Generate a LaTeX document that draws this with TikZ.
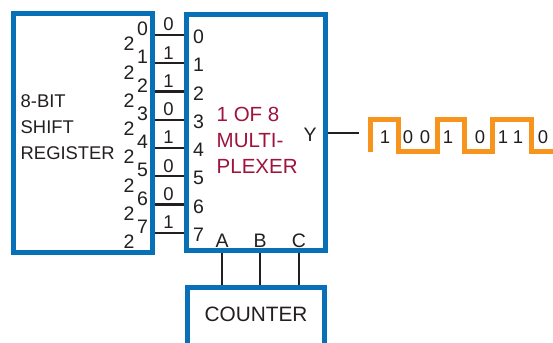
\documentclass[tikz,border=0pt]{standalone}
\usepackage{fontspec}
\setmainfont{Liberation Sans}
\definecolor{boxblue}{RGB}{8,112,182}
\definecolor{muxred}{RGB}{158,20,62}
\definecolor{waveorange}{RGB}{247,148,29}
\definecolor{ink}{RGB}{35,31,32}
\tikzset{
  blk/.style={draw=boxblue, line width=5pt, inner sep=0pt, fill=white},
  wire/.style={draw=ink, line width=2.2pt},
  lbl/.style={text=ink, inner sep=0pt, font=\fontsize{19.5}{19.5}\selectfont},
  reg/.style={text=ink, inner sep=0pt, font=\fontsize{18.4}{18.4}\selectfont},
  bit/.style={text=ink, inner sep=0pt, font=\fontsize{18.5}{18.5}\selectfont},
  muxtxt/.style={text=muxred, inner sep=0pt, align=left, font=\fontsize{20.5}{26}\selectfont},
  wave/.style={draw=waveorange, line width=5pt, line join=miter}
}
\begin{document}
\begin{tikzpicture}[x=1pt,y=-1pt]
\clip (0,0) rectangle (553,342);
\useasboundingbox (0,0) rectangle (553,342);
% blocks
\node[blk, minimum width=139pt, minimum height=238.5pt] (reg) at (83,133.25) {};
\node[blk, minimum width=139pt, minimum height=235.5pt] (mux) at (256,132.25) {};
\node[blk, minimum width=137pt, minimum height=58pt] (cnt) at (256,316.5) {};
\node[text=ink, inner sep=0pt, font=\fontsize{20.8}{20.8}\selectfont] (cnttxt) at (256,314) {COUNTER};
% register text
\node[reg, anchor=west] (r1) at (20.5,101) {8-BIT};
\node[reg, anchor=west] (r2) at (20.5,127) {SHIFT};
\node[reg, anchor=west] (r3) at (20.5,153) {REGISTER};
% mux text
\node[muxtxt, anchor=north west] (mt) at (216.5,107) {1 OF 8\\MULTI-\\PLEXER};
% inputs
\foreach \i/\b in {0/0,1/1,2/1,3/0,4/1,5/0,6/0,7/1}{
  \pgfmathsetmacro{\yy}{35+28.25*\i}
  \coordinate (l\i) at (160,\yy);
  \draw[wire] (reg.east |- l\i) -- (mux.west |- l\i);
  \node[bit] (b\i) at (168.5,\yy-10.5) {\b};
  \node[lbl] (n\i) at (198.5,\yy+2) {\i};
  \node[lbl] (t\i) at (129,\yy+9) {2};
  \node[lbl] (e\i) at (142.5,\yy-6) {\i};
}
% output
\node[lbl] (Y) at (310,135) {Y};
\coordinate (yout) at (359,133);
\draw[wire] (mux.east |- yout) -- (yout);
% select lines
\foreach \n/\x in {A/222,B/260,C/299}{
  \coordinate (s\n) at (\x,260);
  \node[lbl] (L\n) at (\x,241) {\n};
  \draw[wire] (mux.south -| s\n) -- (cnt.north -| s\n);
}
% waveform
\draw[wave] (370.5,151.5) -- (370.5,119) -- (398,119) -- (398,151.5) -- (437.5,151.5)
  -- (437.5,119) -- (464.5,119) -- (464.5,151.5) -- (492.5,151.5) -- (492.5,119)
  -- (531,119) -- (531,151.5) -- (560,151.5);
\foreach \x/\b [count=\k] in {385/1,408/0,425/0,448/1,480/0,503/1,518/1,543/0}{
  \node[bit] (w\k) at (\x,137) {\b};
}
\end{tikzpicture}
\end{document}
